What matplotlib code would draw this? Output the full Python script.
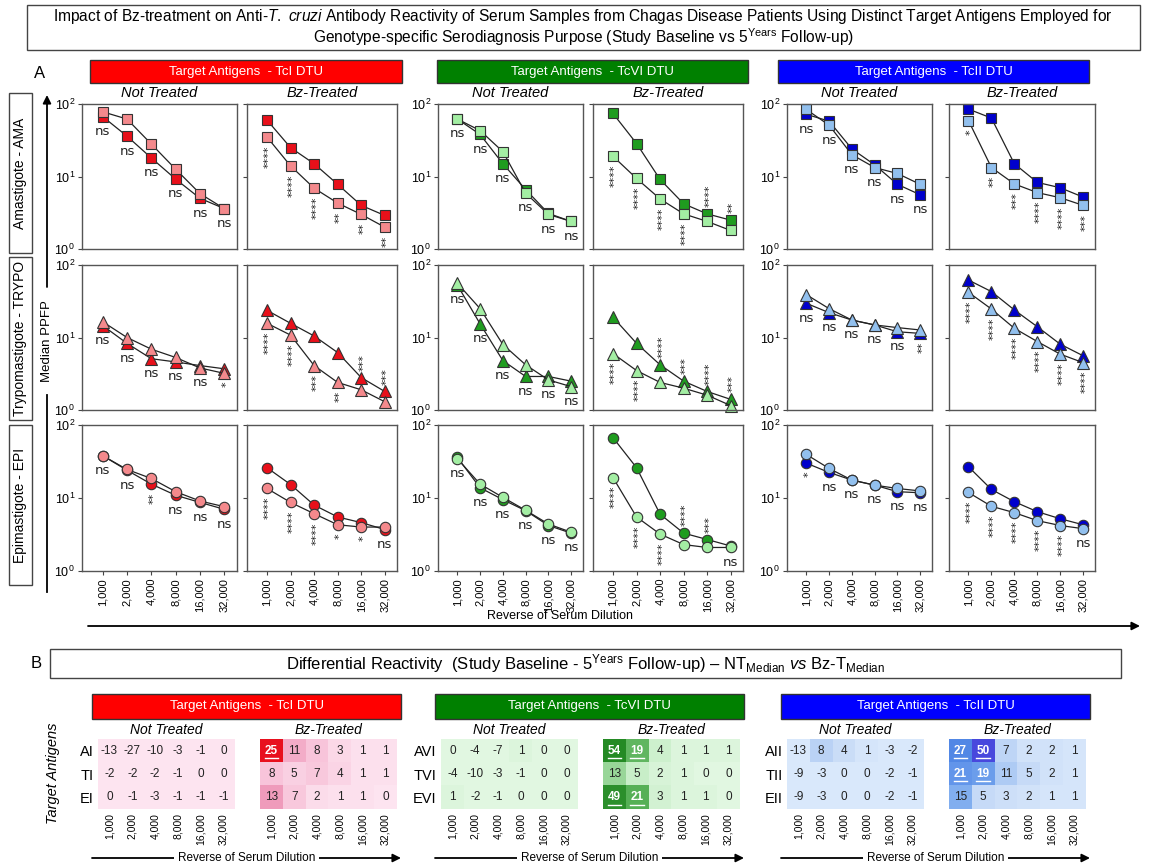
import matplotlib
matplotlib.use('Agg')
import matplotlib.pyplot as plt
import numpy as np
from matplotlib.patches import Rectangle, FancyArrowPatch
from matplotlib.lines import Line2D
from matplotlib.colors import LinearSegmentedColormap, Normalize
from matplotlib.ticker import NullLocator

plt.rcParams['font.family'] = ['Liberation Sans', 'DejaVu Sans']
plt.rcParams['mathtext.fontset'] = 'custom'
plt.rcParams['mathtext.rm'] = 'Liberation Sans'
plt.rcParams['mathtext.it'] = 'Liberation Sans:italic'
plt.rcParams['mathtext.bf'] = 'Liberation Sans:bold'

# dilution categories
dilutions = ['1,000', '2,000', '4,000', '8,000', '16,000', '32,000']

# median PPFP: [baseline, 5 years follow-up]
# AMA (amastigote)
ama_tci_nt = [[67, 36, 18, 9.2, 5.0, 3.6], [78, 62, 28, 12.6, 5.8, 3.6]]
ama_tci_bz = [[60, 25, 15, 7.8, 4.0, 2.9], [35, 14, 6.9, 4.3, 3.0, 2.0]]
ama_tcvi_nt = [[62, 38, 15, 6.6, 3.1, 2.4], [62, 43, 22, 5.9, 3.0, 2.4]]
ama_tcvi_bz = [[74, 28.5, 9.1, 4.2, 3.05, 2.5], [19, 9.4, 4.9, 3.05, 2.4, 1.8]]
ama_tcii_nt = [[72, 58, 24, 14.5, 7.8, 5.6], [84, 51, 20, 13.3, 11, 7.8]]
ama_tcii_bz = [[85, 64, 15, 8.3, 7.0, 5.2], [59, 13.3, 7.9, 6.0, 5.1, 4.0]]
# TRYPO (trypomastigote)
trypo_tci_nt = [[14.6, 8.3, 5.1, 4.6, 4.1, 3.7], [16.5, 10, 6.9, 5.3, 3.8, 3.2]]
trypo_tci_bz = [[23.7, 15.7, 10.5, 6.2, 2.8, 1.8], [15.7, 10.8, 4.1, 2.4, 1.9, 1.3]]
trypo_tcvi_nt = [[53, 15.4, 4.8, 2.9, 2.9, 2.5], [56, 25, 8.0, 4.2, 2.6, 2.1]]
trypo_tcvi_bz = [[19, 8.3, 4.2, 2.5, 1.8, 1.4], [6.0, 3.5, 2.4, 2.0, 1.6, 1.15]]
trypo_tcii_nt = [[29.6, 22, 17.4, 14.9, 12, 11.4], [39, 25, 17.4, 14.9, 13.7, 12.7]]
trypo_tcii_bz = [[62, 43, 24, 14.1, 8.1, 5.6], [42, 24.7, 13.4, 8.8, 5.9, 4.5]]
# EPI (epimastigote)
epi_tci_nt = [[38, 24, 15.5, 10.9, 8.7, 7.0], [38, 24.6, 18.5, 12.2, 9.1, 7.6]]
epi_tci_bz = [[26, 15.3, 8.0, 5.5, 4.6, 3.7], [13.5, 8.7, 6.1, 4.3, 4.0, 4.0]]
epi_tcvi_nt = [[36, 13.8, 9.5, 6.7, 4.2, 3.3], [34.5, 15.5, 10.2, 6.8, 4.4, 3.4]]
epi_tcvi_bz = [[67, 26, 6.0, 3.3, 2.7, 2.2], [19, 5.5, 3.2, 2.3, 2.1, 2.1]]
epi_tcii_nt = [[30, 22.4, 17.6, 15, 12.2, 11.8], [39.5, 25.4, 17.6, 15, 13.5, 12.5]]
epi_tcii_bz = [[26.8, 13.1, 8.9, 6.5, 5.2, 4.3], [11.9, 7.7, 6.3, 4.9, 4.2, 3.8]]

# significance labels
ns6 = ['ns'] * 6
sig_ama_tci_bz = ['****', '****', '****', '**', '**', '**']
sig_ama_tcvi_bz = ['****', '****', '****', '****', '****', '**']
sig_ama_tcii_bz = ['*', '**', '***', '****', '****', '***']
sig_trypo_tci_nt = ['ns', 'ns', 'ns', 'ns', 'ns', '*']
sig_trypo_tci_bz = ['****', '****', '***', '**', '***', '***']
sig_trypo_tcvi_bz = ['****', '****', '****', '***', '****', '***']
sig_trypo_tcii_nt = ['ns', 'ns', 'ns', 'ns', 'ns', '**']
sig_trypo_tcii_bz = ['****'] * 6
sig_epi_tci_nt = ['ns', 'ns', '**', 'ns', 'ns', 'ns']
sig_epi_tci_bz = ['****', '****', '****', '*', '*', 'ns']
sig_epi_tcvi_bz = ['****', '****', '****', '****', '***', 'ns']
sig_epi_tcii_nt = ['*', 'ns', 'ns', 'ns', 'ns', 'ns']
sig_epi_tcii_bz = ['****', '****', '****', '****', '****', 'ns']

# differential reactivity (baseline - follow-up)
hm_tci_nt = [[-13, -27, -10, -3, -1, 0], [-2, -2, -2, -1, 0, 0], [0, -1, -3, -1, -1, -1]]
hm_tci_bz = [[25, 11, 8, 3, 1, 1], [8, 5, 7, 4, 1, 1], [13, 7, 2, 1, 1, 0]]
hm_tcvi_nt = [[0, -4, -7, 1, 0, 0], [-4, -10, -3, -1, 0, 0], [1, -2, -1, 0, 0, 0]]
hm_tcvi_bz = [[54, 19, 4, 1, 1, 1], [13, 5, 2, 1, 0, 0], [49, 21, 3, 1, 1, 0]]
hm_tcii_nt = [[-13, 8, 4, 1, -3, -2], [-9, -3, 0, 0, -2, -1], [-9, -3, 0, 0, -2, -1]]
hm_tcii_bz = [[27, 50, 7, 2, 2, 1], [21, 19, 11, 5, 2, 1], [15, 5, 3, 2, 1, 1]]
hm_rows = {'TcI': ['AI', 'TI', 'EI'], 'TcVI': ['AVI', 'TVI', 'EVI'], 'TcII': ['AII', 'TII', 'EII']}

dtus = ['TcI', 'TcVI', 'TcII']
medians = {
    (0, 'TcI', 'nt'): ama_tci_nt, (0, 'TcI', 'bz'): ama_tci_bz,
    (0, 'TcVI', 'nt'): ama_tcvi_nt, (0, 'TcVI', 'bz'): ama_tcvi_bz,
    (0, 'TcII', 'nt'): ama_tcii_nt, (0, 'TcII', 'bz'): ama_tcii_bz,
    (1, 'TcI', 'nt'): trypo_tci_nt, (1, 'TcI', 'bz'): trypo_tci_bz,
    (1, 'TcVI', 'nt'): trypo_tcvi_nt, (1, 'TcVI', 'bz'): trypo_tcvi_bz,
    (1, 'TcII', 'nt'): trypo_tcii_nt, (1, 'TcII', 'bz'): trypo_tcii_bz,
    (2, 'TcI', 'nt'): epi_tci_nt, (2, 'TcI', 'bz'): epi_tci_bz,
    (2, 'TcVI', 'nt'): epi_tcvi_nt, (2, 'TcVI', 'bz'): epi_tcvi_bz,
    (2, 'TcII', 'nt'): epi_tcii_nt, (2, 'TcII', 'bz'): epi_tcii_bz,
}
sigs = {
    (0, 'TcI', 'nt'): ns6, (0, 'TcI', 'bz'): sig_ama_tci_bz,
    (0, 'TcVI', 'nt'): ns6, (0, 'TcVI', 'bz'): sig_ama_tcvi_bz,
    (0, 'TcII', 'nt'): ns6, (0, 'TcII', 'bz'): sig_ama_tcii_bz,
    (1, 'TcI', 'nt'): sig_trypo_tci_nt, (1, 'TcI', 'bz'): sig_trypo_tci_bz,
    (1, 'TcVI', 'nt'): ns6, (1, 'TcVI', 'bz'): sig_trypo_tcvi_bz,
    (1, 'TcII', 'nt'): sig_trypo_tcii_nt, (1, 'TcII', 'bz'): sig_trypo_tcii_bz,
    (2, 'TcI', 'nt'): sig_epi_tci_nt, (2, 'TcI', 'bz'): sig_epi_tci_bz,
    (2, 'TcVI', 'nt'): ns6, (2, 'TcVI', 'bz'): sig_epi_tcvi_bz,
    (2, 'TcII', 'nt'): sig_epi_tcii_nt, (2, 'TcII', 'bz'): sig_epi_tcii_bz,
}
heatmaps = {('TcI', 'nt'): hm_tci_nt, ('TcI', 'bz'): hm_tci_bz,
            ('TcVI', 'nt'): hm_tcvi_nt, ('TcVI', 'bz'): hm_tcvi_bz,
            ('TcII', 'nt'): hm_tcii_nt, ('TcII', 'bz'): hm_tcii_bz}

# labels placed above the upper marker instead of below
above = {(0, 'TcVI', 'bz', 4), (0, 'TcVI', 'bz', 5),
         (1, 'TcI', 'bz', 4), (1, 'TcI', 'bz', 5),
         (1, 'TcVI', 'bz', 2), (1, 'TcVI', 'bz', 3), (1, 'TcVI', 'bz', 4), (1, 'TcVI', 'bz', 5),
         (2, 'TcVI', 'bz', 3), (2, 'TcVI', 'bz', 4)}

dark = {'TcI': '#e8101a', 'TcVI': '#1f9c1f', 'TcII': '#0000cc'}
light = {'TcI': '#f4898c', 'TcVI': '#a3eea3', 'TcII': '#92c0ee'}
banner = {'TcI': '#ff0000', 'TcVI': '#008000', 'TcII': '#0000ff'}
anchors = {
    'TcI': [(0, '#fde4f0'), (8, '#f8c4da'), (13, '#f09cbc'), (25, '#e8101e')],
    'TcVI': [(0, '#e1f7e1'), (5, '#c8eec8'), (13, '#98d698'), (20, '#58b258'), (54, '#248a24')],
    'TcII': [(0, '#d9e8fb'), (5, '#c6daf7'), (11, '#aecbf4'), (15, '#80aeef'), (21, '#6295ea'),
             (27, '#5288e6'), (50, '#4848dd')],
}

W, H = 1165, 865
fig = plt.figure(figsize=(W / 100, H / 100), dpi=100)


def fx(x):
    return x / W


def fy(y):
    return 1 - y / H


def rect(x0, y0, x1, y1):
    return [fx(x0), fy(y1), (x1 - x0) / W, (y1 - y0) / H]


def fbox(x0, y0, x1, y1, fc='white', ec='#444444', lw=1.0):
    fig.add_artist(Rectangle((fx(x0), fy(y1)), (x1 - x0) / W, (y1 - y0) / H,
                             transform=fig.transFigure, fc=fc, ec=ec, lw=lw))


def farrow(x0, y0, x1, y1):
    fig.add_artist(FancyArrowPatch((fx(x0), fy(y0)), (fx(x1), fy(y1)), transform=fig.transFigure,
                                   arrowstyle='-|>', mutation_scale=12, lw=1.3, color='black',
                                   shrinkA=0, shrinkB=0))


def fline(x0, y0, x1, y1):
    fig.add_artist(Line2D([fx(x0), fx(x1)], [fy(y0), fy(y1)], transform=fig.transFigure,
                          lw=1.3, color='black'))


# ---- title
fbox(27, 5, 1140, 50)
fig.text(fx(583), fy(17), r"Impact of Bz-treatment on Anti-$\mathit{T.\ cruzi}$ Antibody Reactivity of Serum "
         "Samples from Chagas Disease Patients Using Distinct Target Antigens Employed for",
         ha='center', va='center', fontsize=11.2)
fig.text(fx(583), fy(37), r"Genotype-specific Serodiagnosis Purpose (Study Baseline vs 5$^{\mathrm{Years}}$ Follow-up)",
         ha='center', va='center', fontsize=11.2)

# ---- part A
fig.text(fx(40), fy(73), 'A', fontsize=12, ha='center', va='center')
banner_a = {'TcI': (90, 402), 'TcVI': (437, 748), 'TcII': (778, 1089)}
for dtu in dtus:
    bx0, bx1 = banner_a[dtu]
    fbox(bx0, 60, bx1, 83, fc=banner[dtu], ec='#333333')
    fig.text(fx((bx0 + bx1) / 2), fy(71.5), 'Target Antigens  - %s DTU' % dtu, color='white',
             ha='center', va='center', fontsize=9.5)

cols_x = [(82, 237), (247, 397), (438, 583), (593, 743), (787, 932), (949, 1095)]
rows_y = [(104, 249), (265, 410), (425, 571)]
markers = ['s', '^', 'o']
msizes = [7, 8.5, 7.5]
xpos = np.arange(6)

for r in range(3):
    for d, dtu in enumerate(dtus):
        for g, grp in enumerate(['nt', 'bz']):
            x0, x1 = cols_x[2 * d + g]
            y0, y1 = rows_y[r]
            ax = fig.add_axes(rect(x0, y0, x1, y1))
            bl, fu = medians[(r, dtu, grp)]
            for vals, col in [(bl, dark[dtu]), (fu, light[dtu])]:
                ax.plot(xpos, vals, color='#222222', lw=0.9, marker=markers[r], ms=msizes[r],
                        mfc=col, mec='#333333', mew=0.8, clip_on=False)
            for i, s in enumerate(sigs[(r, dtu, grp)]):
                lo, hi = min(bl[i], fu[i]), max(bl[i], fu[i])
                star = s != 'ns'
                if (r, dtu, grp, i) in above:
                    ax.annotate(s, xy=(i, hi), xytext=(1.5 if star else 0, 5), textcoords='offset points',
                                ha='center', va='bottom', rotation=90 if star else 0,
                                fontsize=8 if star else 9.5, family='DejaVu Sans', color='#222222')
                else:
                    ax.annotate(s, xy=(i, lo), xytext=(1.5 if star else 0, -6), textcoords='offset points',
                                ha='center', va='top', rotation=90 if star else 0,
                                fontsize=8 if star else 9.5, family='DejaVu Sans', color='#222222',
                                annotation_clip=False)
            ax.set_yscale('log')
            ax.set_ylim(1, 100)
            ax.set_xlim(-0.85, 5.52)
            ax.set_yticks([1, 10, 100])
            ax.yaxis.set_minor_locator(NullLocator())
            ax.tick_params(axis='y', direction='out', length=3, width=0.8, colors='#444444',
                           labelcolor='black', labelsize=9, pad=2)
            if grp == 'bz':
                ax.set_yticklabels([])
            ax.set_xticks(xpos)
            if r == 2:
                ax.set_xticklabels(dilutions, rotation=90, fontsize=8)
                ax.tick_params(axis='x', length=3, width=0.8, colors='#444444', labelcolor='black', pad=2)
            else:
                ax.tick_params(axis='x', length=0, labelbottom=False)
            for sp in ax.spines.values():
                sp.set_color('#555555')
                sp.set_linewidth(1.0)
            if r == 0:
                ax.text(0.5, 1.03, 'Not Treated' if grp == 'nt' else 'Bz-Treated', transform=ax.transAxes,
                        ha='center', va='bottom', style='italic', fontsize=10.5)

# row labels
row_boxes = [('Amastigote - AMA', 93, 253), ('Trypomastigote - TRYPO', 257, 420), ('Epimastigote - EPI', 425, 585)]
for lab, b0, b1 in row_boxes:
    fbox(9, b0, 32, b1)
    fig.text(fx(20.5), fy((b0 + b1) / 2), lab, rotation=90, ha='center', va='center', fontsize=10)
# vertical axis arrow, interrupted by its label
fline(47, 592, 47, 395)
farrow(47, 287, 47, 95)
fig.text(fx(47), fy(341), 'Median PPFP', rotation=90, ha='center', va='center', fontsize=9.5)
farrow(88, 626, 1140, 626)
fig.text(fx(560), fy(616), 'Reverse of Serum Dilution', ha='center', va='center', fontsize=9)

# ---- part B
fbox(50, 649, 1121, 678)
fig.text(fx(36), fy(664), 'B', fontsize=12, ha='center', va='center')
fig.text(fx(586), fy(663.5), r"Differential Reactivity  (Study Baseline - 5$^{\mathrm{Years}}$ Follow-up) – "
         r"NT$_{\mathrm{Median}}$ $\mathit{vs}$ Bz-T$_{\mathrm{Median}}$", ha='center', va='center', fontsize=12)
fig.text(fx(53), fy(773), 'Target Antigens', rotation=90, style='italic', ha='center', va='center', fontsize=10.5)

banner_b = {'TcI': 92, 'TcVI': 435, 'TcII': 781}
for dtu in dtus:
    bx0 = banner_b[dtu]
    fbox(bx0, 694, bx0 + 309, 719, fc=banner[dtu], ec='#333333')
    fig.text(fx(bx0 + 154.5), fy(706.5), 'Target Antigens  - %s DTU' % dtu, color='white',
             ha='center', va='center', fontsize=9.5)
    vmax = anchors[dtu][-1][0]
    cmap = LinearSegmentedColormap.from_list(dtu, [(v / vmax, c) for v, c in anchors[dtu]])
    norm = Normalize(vmin=0, vmax=vmax)
    for g, grp in enumerate(['nt', 'bz']):
        hx0 = bx0 + (6 if grp == 'nt' else 168)
        ax = fig.add_axes(rect(hx0, 739, hx0 + 137, 809))
        data = np.array(heatmaps[(dtu, grp)])
        ax.imshow(data, cmap=cmap, norm=norm, aspect='auto')
        for i in range(3):
            for j in range(6):
                v = data[i, j]
                strong = v >= 19
                ax.text(j, i, str(v), ha='center', va='center', fontsize=8.5,
                        color='white' if strong else '#222222', fontweight='bold' if strong else 'normal')
                if strong:
                    ax.plot([j - 0.3, j + 0.3], [i + 0.32, i + 0.32], color='white', lw=1)
        ax.set_xlim(-0.5, 5.5)
        ax.set_ylim(2.5, -0.5)
        ax.set_xticks(range(6))
        ax.set_xticklabels(dilutions, rotation=90, fontsize=7.5)
        ax.set_yticks(range(3))
        if grp == 'nt':
            ax.set_yticklabels(hm_rows[dtu], fontsize=10.5)
        else:
            ax.set_yticklabels([])
        ax.tick_params(length=0, pad=3)
        for sp in ax.spines.values():
            sp.set_visible(False)
        ax.text(0.5, 1.03, 'Not Treated' if grp == 'nt' else 'Bz-Treated', transform=ax.transAxes,
                ha='center', va='bottom', style='italic', fontsize=10)
    farrow(bx0, 858, bx0 + 309, 858)
    fig.text(fx(bx0 + 154.5), fy(858), 'Reverse of Serum Dilution', ha='center', va='center', fontsize=8.5,
             bbox=dict(fc='white', ec='none', pad=3))

fig.savefig('out.png', dpi=100)
